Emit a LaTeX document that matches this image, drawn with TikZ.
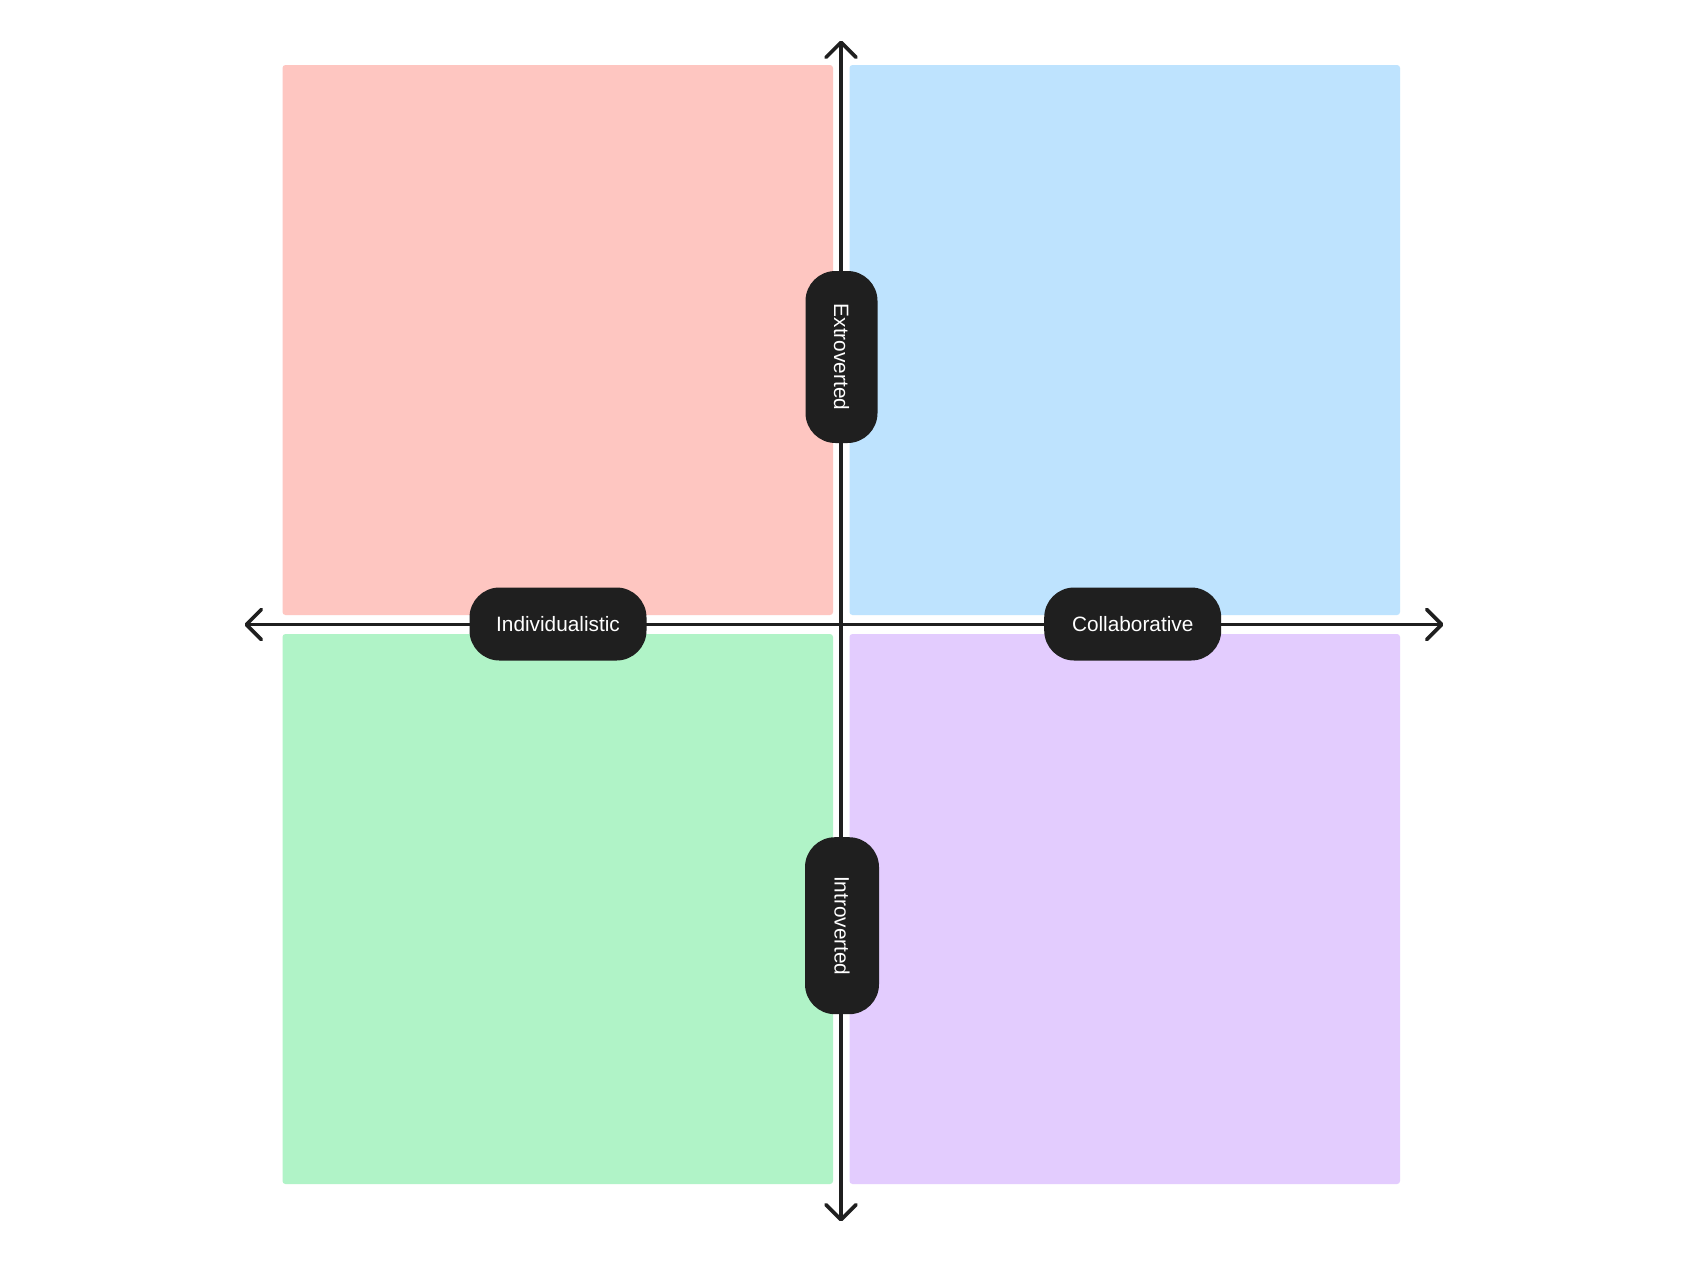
\documentclass[tikz,border=0pt]{standalone}
\usepackage{fontspec}
\setmainfont{Liberation Sans}
\usetikzlibrary{arrows.meta}
\definecolor{qred}{RGB}{254,198,193}
\definecolor{qblue}{RGB}{190,227,254}
\definecolor{qgreen}{RGB}{176,243,199}
\definecolor{qpurple}{RGB}{227,204,254}
\definecolor{ink}{RGB}{31,31,31}
\tikzset{
  quad/.style={draw=none, rounded corners=3pt, minimum width=550.5pt, minimum height=550pt, inner sep=0pt},
  pill/.style={rectangle, fill=ink, rounded corners=30pt, text=white, font=\fontsize{20.8}{24}\selectfont, inner sep=0pt, minimum height=73pt},
  axis/.style={draw=ink, line width=3.6pt, {Straight Barb[length=15pt,width=30pt,line cap=round,line join=round]}-{Straight Barb[length=15pt,width=30pt,line cap=round,line join=round]}}
}
\begin{document}
\begin{tikzpicture}[x=1pt,y=-1pt]
\useasboundingbox[fill=white] (0,0) rectangle (1693,1275);
\node[quad, fill=qred] (qtl) at (557.75,340) {};
\node[quad, fill=qblue] (qtr) at (1124.75,340) {};
\node[quad, fill=qgreen] (qbl) at (557.75,909) {};
\node[quad, fill=qpurple] (qbr) at (1124.75,909) {};
\coordinate (L) at (244.5,624.5);
\coordinate (R) at (1443.5,624.5);
\coordinate (T) at (841,40.5);
\coordinate (B) at (841,1221.5);
\draw[axis] (L) -- (R);
\draw[axis] (T) -- (B);
\node[pill, minimum width=177pt] (ind) at (558,624) {Individualistic};
\node[pill, minimum width=177pt] (col) at (1132.7,624) {Collaborative};
\node[pill, minimum width=172pt, minimum height=72pt, rotate=-90] (ext) at (841.5,357) {Extroverted};
\node[pill, minimum width=177pt, minimum height=74pt, rotate=-90] (intr) at (842,925.7) {Introverted};
\end{tikzpicture}
\end{document}
